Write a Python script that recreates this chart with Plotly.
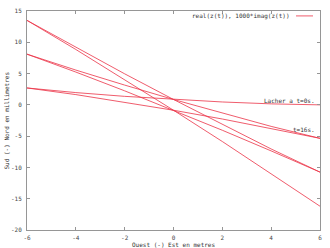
import plotly.graph_objects as go

# Trajectory: successive swings between the x = +/-6 m extremes
x_m = [6, 4, 2, 0, -2, -4,
       -6, -4, -2, 0, 2, 4,
       6, 4, 2, 0, -2, -4,
       -6, -4, -2, 0, 2, 4,
       6, 4, 2, 0, -2, -4,
       -6, -4, -2, 0, 2, 4, 6]
y_mm = [0.0, 0.16, 0.46, 0.86, 1.36, 1.96,
        2.70, 1.64, 0.44, -0.86, -2.26, -3.76,
        -5.35, -3.44, -1.34, 0.86, 3.16, 5.56,
        8.10, 5.24, 2.24, -0.86, -4.06, -7.36,
        -10.75, -7.05, -3.14, 0.86, 4.96, 9.17,
        13.50, 8.85, 4.04, -0.86, -5.86, -10.97, -16.2]

x_ticks = [-6, -4, -2, 0, 2, 4, 6]
y_ticks = [-20, -15, -10, -5, 0, 5, 10, 15]

legend_text = "real(z(t)), 1000*imag(z(t))"
label_t0 = "Lacher a t=0s."
label_t16 = "t=16s."
x_title = "Ouest (-) Est en metres"
y_title = "Sud (-) Nord en millimetres"

FONT = "DejaVu Sans Mono"
RED = "rgb(235,50,70)"
GRID = "rgb(150,150,150)"

fig = go.Figure()
fig.add_trace(go.Scatter(x=x_m, y=y_mm, mode="lines",
                         line=dict(color=RED, width=0.8),
                         showlegend=False, hoverinfo="skip"))

axis_common = dict(showline=True, linecolor=GRID, linewidth=1, mirror="ticks",
                   ticks="inside", ticklen=3, tickcolor=GRID, tickwidth=1,
                   showgrid=False, zeroline=False,
                   tickfont=dict(family=FONT, size=6, color="rgb(70,70,70)"))

fig.update_xaxes(range=[-6, 6], tickvals=x_ticks, ticktext=[str(v) for v in x_ticks],
                 ticklabelstandoff=2, **axis_common)
fig.update_yaxes(range=[-20, 15], tickvals=y_ticks, ticktext=[str(v) for v in y_ticks],
                 ticklabelstandoff=3, **axis_common)

W, H = 330, 248
ml, mr, mt, mb = 27, 10, 7, 18
pw, ph = W - ml - mr, H - mt - mb

def px(xp):
    return (xp - ml) / pw

def py(yp):
    return (H - mb - yp) / ph

tf = dict(family=FONT, size=6, color="rgb(50,50,50)")
ann = [
    dict(text=x_title, xref="paper", yref="paper", x=0.5, y=py(245),
         xanchor="center", yanchor="middle", showarrow=False, font=tf),
    dict(text=y_title, xref="paper", yref="paper", x=px(6), y=0.5, textangle=-90,
         xanchor="center", yanchor="middle", showarrow=False, font=tf),
    dict(text=legend_text, xref="paper", yref="paper", x=px(292), y=py(12),
         xanchor="right", yanchor="middle", showarrow=False, font=tf),
    dict(text=label_t0, xref="paper", yref="paper", x=px(317), y=py(98.5),
         xanchor="right", yanchor="middle", showarrow=False, font=tf),
    dict(text=label_t16, xref="paper", yref="paper", x=px(317), y=py(128),
         xanchor="right", yanchor="middle", showarrow=False, font=tf),
]

fig.update_layout(
    width=W, height=H,
    margin=dict(l=ml, r=mr, t=mt, b=mb, pad=0),
    paper_bgcolor="white", plot_bgcolor="white",
    annotations=ann,
    shapes=[dict(type="line", xref="paper", yref="paper",
                 x0=px(296), x1=px(313), y0=py(12), y1=py(12),
                 line=dict(color=RED, width=0.8))],
)

fig.write_html("out.html", config={"displayModeBar": False})
